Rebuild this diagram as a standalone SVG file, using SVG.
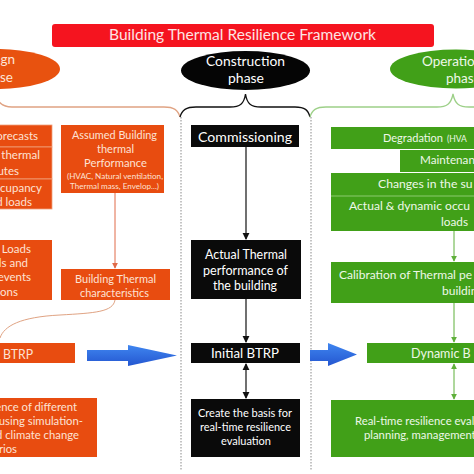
<svg xmlns="http://www.w3.org/2000/svg" width="474" height="474" viewBox="0 0 474 474">
<defs>
<style>
text{font-family:Lato,"Open Sans","Liberation Sans",sans-serif}
.or{fill:#e84c10}
.gr{fill:#41a018}
.bk{fill:#0a0a0a}
.to{fill:#fde2d4}
.tg{fill:#eef8e8}
.tw{fill:#ffffff}
.c{text-anchor:middle}
.e{text-anchor:end}
.dot{stroke:#8a8a8a;stroke-width:1;stroke-dasharray:1.5 1.5;fill:none}
</style>
<marker id="ab" viewBox="0 0 8 8" refX="7" refY="4" markerWidth="6" markerHeight="6" orient="auto-start-reverse"><path d="M0,0 L8,4 L0,8 z" fill="#111"/></marker>
<marker id="ao" viewBox="0 0 8 8" refX="7" refY="4" markerWidth="6" markerHeight="6" orient="auto-start-reverse"><path d="M0,0 L8,4 L0,8 z" fill="#e06a48"/></marker>
<marker id="ag" viewBox="0 0 8 8" refX="7" refY="4" markerWidth="6" markerHeight="6" orient="auto-start-reverse"><path d="M0,0 L8,4 L0,8 z" fill="#5fb03a"/></marker>
<linearGradient id="blue" x1="0" y1="0" x2="0" y2="1"><stop offset="0" stop-color="#3f86f0"/><stop offset="1" stop-color="#2456d0"/></linearGradient>
</defs>
<rect width="474" height="474" fill="#ffffff"/>

<g id="title">
<rect x="52" y="24" width="382" height="23" rx="3" fill="#f5141f"/>
<text x="242.5" y="40" class="c" fill="#fde4e4" font-size="14.5" textLength="267" lengthAdjust="spacingAndGlyphs">Building Thermal Resilience Framework</text>
</g>

<g id="design-phase">
<ellipse cx="-5" cy="69" rx="65" ry="20" fill="#e8520f"/>
<text x="15" y="64" class="e" fill="#fde4d6" font-size="13.5">Design</text>
<text x="13" y="82" class="e" fill="#fde4d6" font-size="13.5">phase</text>
</g>
<g id="construction-phase">
<ellipse cx="245.5" cy="70.5" rx="64.5" ry="19.5" fill="#050505"/>
<text x="245.5" y="66" class="c" fill="#ffffff" font-size="14" textLength="79" lengthAdjust="spacingAndGlyphs">Construction</text>
<text x="246" y="83" class="c" fill="#ffffff" font-size="14" textLength="36" lengthAdjust="spacingAndGlyphs">phase</text>
</g>
<g id="operation-phase">
<ellipse cx="456" cy="69" rx="66" ry="19.5" fill="#41a018"/>
<text x="422" y="66" fill="#eef8e8" font-size="13.5">Operation</text>
<text x="446" y="83" fill="#eef8e8" font-size="13.5">phase</text>
</g>

<g id="braces" fill="none" stroke-width="1.3">
<path d="M180,117 C178,110 174,107 164,107 L12,107 C4,107 -2,104 -4,95" stroke="#e0a383"/>
<path d="M180,117 C182,110 186,107 196,107 L230,107 C240,107 244,104 245.5,94 C247,104 251,107 261,107 L295,107 C305,107 308,110 310,117" stroke="#111"/>
<path d="M310,117 C312,110 316,107 326,107 L437,107 C447,107 451,104 453,94 C455,104 459,107 469,107 L480,107" stroke="#9dd088"/>
</g>

<g id="dividers">
<line x1="181" y1="117" x2="181" y2="470" class="dot"/>
<line x1="311" y1="117" x2="311" y2="470" class="dot"/>
</g>

<g id="design-inputs">
<rect x="-60" y="125" width="112" height="22" class="or" stroke="#f0a07c" stroke-width="0.8"/>
<rect x="-60" y="147" width="112" height="32" class="or" stroke="#f0a07c" stroke-width="0.8"/>
<rect x="-60" y="179" width="112" height="30" class="or" stroke="#f0a07c" stroke-width="0.8"/>
<text x="38" y="140" class="to e" font-size="11.5">orecasts</text>
<text x="40" y="159" class="to e" font-size="11.5">thermal</text>
<text x="19" y="175" class="to e" font-size="11.5">utes</text>
<text x="42" y="192" class="to e" font-size="11.5">ccupancy</text>
<text x="32" y="206" class="to e" font-size="11.5">d loads</text>
</g>

<g id="design-loads">
<rect x="-60" y="240" width="112" height="60" class="or"/>
<text x="31" y="253" class="to e" font-size="11.5">Loads</text>
<text x="28" y="267" class="to e" font-size="11.5">ds and</text>
<text x="31" y="281" class="to e" font-size="11.5">events</text>
<text x="18" y="296" class="to e" font-size="11.5">ons</text>
</g>

<g id="assumed-performance">
<rect x="61" y="125" width="103" height="68" class="or"/>
<text x="114.5" y="139" class="to c" font-size="12" textLength="85" lengthAdjust="spacingAndGlyphs">Assumed Building</text>
<text x="115.5" y="153" class="to c" font-size="12" textLength="37" lengthAdjust="spacingAndGlyphs">thermal</text>
<text x="115.5" y="167" class="to c" font-size="12" textLength="63" lengthAdjust="spacingAndGlyphs">Performance</text>
<text x="115" y="178.5" class="to c" font-size="8" textLength="96" lengthAdjust="spacingAndGlyphs">(HVAC, Natural ventilation,</text>
<text x="114.5" y="188.5" class="to c" font-size="8" textLength="89" lengthAdjust="spacingAndGlyphs">Thermal mass,  Envelop...)</text>
</g>

<g id="thermal-characteristics">
<rect x="61" y="269" width="109" height="31" class="or"/>
<text x="115.5" y="283" class="to c" font-size="12" textLength="81" lengthAdjust="spacingAndGlyphs">Building Thermal</text>
<text x="114.5" y="296.5" class="to c" font-size="12" textLength="69" lengthAdjust="spacingAndGlyphs">characteristics</text>
</g>

<g id="assumed-btrp">
<rect x="-60" y="343" width="135" height="20" class="or"/>
<text x="3" y="359" class="to" font-size="13" textLength="30" lengthAdjust="spacingAndGlyphs">BTRP</text>
</g>

<g id="design-scenarios">
<rect x="-60" y="398" width="157" height="59" class="or"/>
<text x="77" y="411" class="to e" font-size="11.3">ence of different</text>
<text x="83" y="425" class="to e" font-size="11.3">using simulation-</text>
<text x="79" y="439" class="to e" font-size="11.3">d climate change</text>
<text x="17" y="453" class="to e" font-size="11.3">rios</text>
</g>

<g id="commissioning">
<rect x="191" y="125" width="108" height="22" class="bk"/>
<text x="245" y="142" class="tw c" font-size="14" textLength="94" lengthAdjust="spacingAndGlyphs">Commissioning</text>
</g>
<g id="actual-performance">
<rect x="191" y="240" width="110" height="59" class="bk"/>
<text x="246" y="259" class="tw c" font-size="12.5" textLength="82" lengthAdjust="spacingAndGlyphs">Actual Thermal</text>
<text x="245.5" y="275" class="tw c" font-size="12.5" textLength="85" lengthAdjust="spacingAndGlyphs">performance  of</text>
<text x="245" y="290" class="tw c" font-size="12.5" textLength="64" lengthAdjust="spacingAndGlyphs">the building</text>
</g>
<g id="initial-btrp">
<rect x="191" y="343" width="109" height="20" class="bk"/>
<text x="245" y="358" class="tw c" font-size="13" textLength="68" lengthAdjust="spacingAndGlyphs">Initial BTRP</text>
</g>
<g id="basis">
<rect x="191" y="399" width="109" height="58" class="bk"/>
<text x="245" y="417" class="tw c" font-size="11.5" textLength="94" lengthAdjust="spacingAndGlyphs">Create the basis for</text>
<text x="245.5" y="431" class="tw c" font-size="11.5" textLength="91" lengthAdjust="spacingAndGlyphs">real-time resilience</text>
<text x="246" y="445" class="tw c" font-size="11.5" textLength="50" lengthAdjust="spacingAndGlyphs">evaluation</text>
</g>

<g id="degradation">
<rect x="331" y="127" width="160" height="22" class="gr"/>
<text x="383" y="142" class="tg" font-size="12" textLength="60" lengthAdjust="spacingAndGlyphs">Degradation</text>
<text x="447" y="142" class="tg" font-size="8.5">(HVA</text>
</g>
<g id="maintenance">
<rect x="400" y="150" width="90" height="22" class="gr"/>
<text x="420" y="164" class="tg" font-size="11.7">Maintenan</text>
</g>
<g id="changes">
<rect x="331" y="173" width="160" height="23" class="gr"/>
<text x="378" y="188" class="tg" font-size="12.2">Changes in the su</text>
</g>
<g id="actual-occupancy">
<rect x="331" y="196" width="160" height="35" class="gr"/>
<line x1="331" y1="196" x2="474" y2="196" stroke="#9fd585" stroke-width="0.8"/>
<text x="349" y="210" class="tg" font-size="12.1">Actual &amp; dynamic occu</text>
<text x="441" y="226" class="tg" font-size="12" textLength="27" lengthAdjust="spacingAndGlyphs">loads</text>
</g>
<g id="calibration">
<rect x="331" y="262" width="160" height="41" class="gr"/>
<text x="339" y="279" class="tg" font-size="12">Calibration of Thermal pe</text>
<text x="442" y="295" class="tg" font-size="12">building</text>
</g>
<g id="dynamic-btrp">
<rect x="367" y="343" width="120" height="20" class="gr"/>
<text x="411" y="358" class="tg" font-size="12.5">Dynamic B</text>
</g>
<g id="realtime">
<rect x="331" y="400" width="160" height="57" class="gr"/>
<text x="355" y="425" class="tg" font-size="11.3">Real-time resilience eval</text>
<text x="364" y="439" class="tg" font-size="11.3">planning, management</text>
</g>

<g id="connectors">
<line x1="115" y1="193" x2="115" y2="268" stroke="#e06a48" stroke-width="1" marker-end="url(#ao)"/>
<path d="M115,300 C113,312 95,313 60,315 C20,317 4,326 0,338" fill="none" stroke="#e0a383" stroke-width="1"/>
<line x1="246" y1="147" x2="246" y2="239" stroke="#111" stroke-width="1.2" marker-end="url(#ab)"/>
<line x1="246" y1="299" x2="246" y2="342" stroke="#111" stroke-width="1.2" marker-end="url(#ab)"/>
<line x1="246" y1="364" x2="246" y2="398" stroke="#111" stroke-width="1.2" marker-start="url(#ab)" marker-end="url(#ab)"/>
<line x1="454" y1="231" x2="454" y2="261" stroke="#5fb03a" stroke-width="1" marker-end="url(#ag)"/>
<line x1="454" y1="303" x2="454" y2="342" stroke="#5fb03a" stroke-width="1" marker-end="url(#ag)"/>
<line x1="454" y1="364" x2="454" y2="399" stroke="#5fb03a" stroke-width="1" marker-start="url(#ag)" marker-end="url(#ag)"/>
<path d="M87,350 L128,350 L128,345 L177,355.5 L128,366 L128,361 L87,361 Z" fill="url(#blue)"/>
<path d="M310,350 L328,350 L328,343 L357,354.5 L328,366 L328,361 L310,361 Z" fill="url(#blue)"/>
</g>
</svg>
